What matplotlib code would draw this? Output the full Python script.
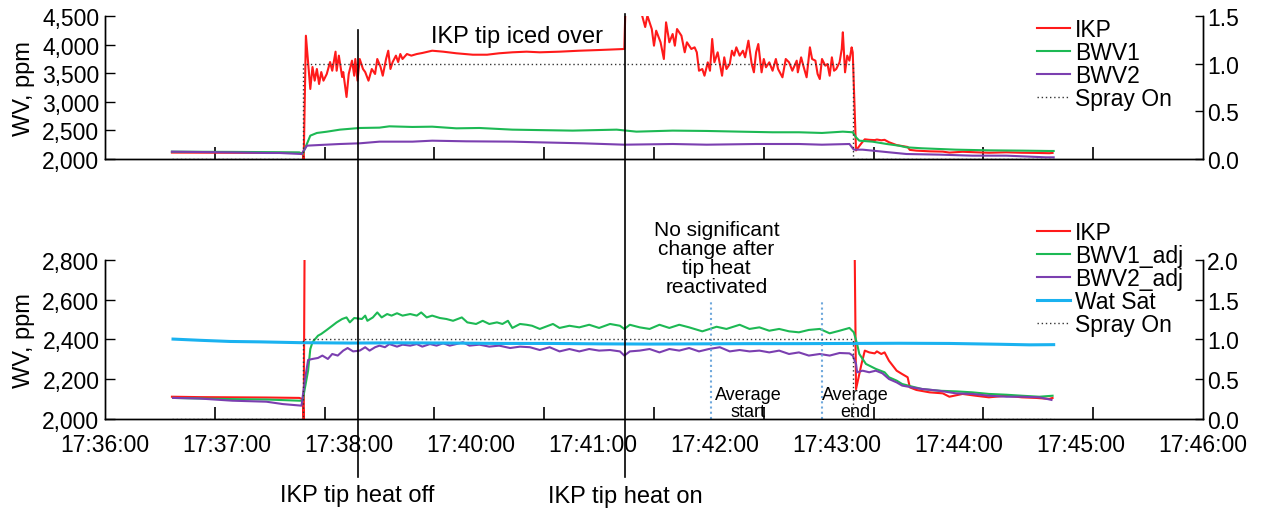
import matplotlib.pyplot as plt
import matplotlib.transforms as mtransforms
from matplotlib.lines import Line2D
from matplotlib.ticker import FixedLocator, FuncFormatter, MultipleLocator
import numpy as np

plt.rcParams["font.family"] = ["Liberation Sans", "DejaVu Sans"]

# time axis: minutes after 17:36:00
tick_labels = ["17:36:00", "17:37:00", "17:38:00", "17:40:00", "17:41:00",
               "17:42:00", "17:43:00", "17:44:00", "17:45:00", "17:46:00"]

# IKP (same series in both panels)
ikp_t = [0.61, 0.86, 1.16, 1.47, 1.77, 1.80, 1.81, 1.83, 1.85, 1.87, 1.89, 1.91,
         1.93, 1.95, 1.97, 1.99, 2.02, 2.05, 2.07, 2.10, 2.11, 2.13, 2.16, 2.17,
         2.20, 2.22, 2.25, 2.27, 2.28, 2.30, 2.32, 2.35, 2.37, 2.40, 2.43, 2.46,
         2.48, 2.51, 2.53, 2.56, 2.58, 2.60, 2.62, 2.65, 2.67, 2.69, 2.71, 2.75,
         2.79, 2.84, 2.89, 2.98, 3.08, 3.20, 3.35, 3.48, 3.59, 3.71, 3.84, 3.96,
         4.14, 4.32, 4.50, 4.73, 4.74, 4.82, 4.89, 4.92, 4.94, 4.98, 5.00, 5.02,
         5.06, 5.09, 5.11, 5.14, 5.17, 5.19, 5.21, 5.25, 5.28, 5.30, 5.34, 5.37,
         5.39, 5.41, 5.44, 5.46, 5.49, 5.51, 5.53, 5.55, 5.58, 5.60, 5.62, 5.64,
         5.66, 5.69, 5.71, 5.73, 5.75, 5.78, 5.81, 5.83, 5.86, 5.89, 5.91, 5.93,
         5.95, 5.98, 6.00, 6.02, 6.05, 6.08, 6.11, 6.13, 6.17, 6.20, 6.23, 6.26,
         6.30, 6.31, 6.34, 6.36, 6.39, 6.40, 6.42, 6.44, 6.47, 6.49, 6.51, 6.53,
         6.56, 6.58, 6.60, 6.62, 6.64, 6.66, 6.69, 6.71, 6.72, 6.74, 6.76, 6.78,
         6.80, 6.81, 6.84, 6.89, 6.92, 6.96, 7.01, 7.03, 7.07, 7.10, 7.14, 7.21,
         7.26, 7.31, 7.33, 7.39, 7.51, 7.63, 7.69, 7.81, 7.93, 8.05, 8.21, 8.35,
         8.48, 8.60, 8.63]
ikp_v = [2112, 2110, 2109, 2108, 2106, 2100, 1985, 4155, 3695, 3224, 3608, 3369,
         3573, 3311, 3520, 3369, 3486, 3695, 3543, 3876, 3543, 3807, 3433, 3520,
         3084, 3486, 3719, 3456, 3748, 3369, 3748, 3573, 3520, 3369, 3573, 3486,
         3748, 3608, 3456, 3748, 3893, 3573, 3695, 3807, 3695, 3835, 3748, 3835,
         3807, 3835, 3853, 3893, 3876, 3848, 3823, 3823, 3848, 3865, 3876, 3865,
         3876, 3893, 3905, 3923, 4650, 4700, 4520, 4307, 4505, 4272, 3981, 4243,
         4040, 3748, 4389, 4040, 4185, 3981, 4272, 4155, 3865, 4040, 3923, 3952,
         3865, 3543, 3573, 3456, 3690, 3543, 4098, 3690, 3865, 3660, 3456, 3777,
         3573, 3660, 3893, 3807, 3952, 3807, 3893, 3777, 4068, 3660, 3515, 3865,
         4010, 3515, 3748, 3603, 3690, 3543, 3748, 3573, 3428, 3748, 3690, 3543,
         3719, 3515, 3777, 3631, 3428, 3603, 3952, 3748, 3719, 3486, 3398, 3748,
         3631, 3660, 3456, 3777, 3543, 3573, 3690, 3923, 4215, 3515, 3807, 3719,
         3952, 3865, 2150, 2277, 2344, 2335, 2330, 2340, 2327, 2335, 2293, 2243,
         2226, 2210, 2159, 2146, 2134, 2129, 2112, 2126, 2117, 2109, 2117, 2109,
         2106, 2101, 2106]

# top panel BWV1 / BWV2
bwv1_t = [0.61, 0.86, 1.16, 1.47, 1.77, 1.80, 1.82, 1.87, 1.93, 2.02, 2.14, 2.32,
          2.50, 2.59, 2.80, 2.98, 3.20, 3.41, 3.71, 3.96, 4.26, 4.66, 4.84, 5.17,
          5.48, 5.78, 6.08, 6.32, 6.53, 6.72, 6.81, 6.84, 6.87, 6.99, 7.12, 7.23,
          7.30, 7.44, 7.75, 8.05, 8.35, 8.60, 8.64]
bwv1_v = [2128, 2126, 2124, 2120, 2115, 2090, 2175, 2408, 2455, 2477, 2513, 2542,
          2548, 2571, 2560, 2565, 2536, 2542, 2513, 2505, 2496, 2513, 2478, 2496,
          2490, 2478, 2467, 2467, 2455, 2478, 2467, 2379, 2320, 2303, 2262, 2233,
          2204, 2187, 2163, 2151, 2146, 2140, 2140]
bwv2_t = [0.61, 0.86, 1.16, 1.47, 1.59, 1.79, 1.84, 1.96, 2.14, 2.32, 2.50, 2.80,
          2.98, 3.29, 3.71, 3.96, 4.35, 4.73, 5.17, 5.48, 5.93, 6.32, 6.53, 6.78,
          6.82, 6.90, 6.99, 7.14, 7.30, 7.60, 7.90, 8.21, 8.57, 8.64]
bwv2_v = [2128, 2122, 2115, 2105, 2105, 2087, 2233, 2245, 2262, 2274, 2303, 2303,
          2320, 2309, 2303, 2291, 2274, 2250, 2262, 2250, 2262, 2262, 2250, 2262,
          2163, 2163, 2146, 2117, 2087, 2076, 2058, 2058, 2029, 2029]

# bottom panel adjusted series
bwv1a_t = [0.62, 0.86, 1.16, 1.47, 1.77, 1.80, 1.85, 1.87, 1.89, 1.94, 1.97, 2.02,
           2.07, 2.11, 2.16, 2.20, 2.23, 2.27, 2.34, 2.37, 2.39, 2.44, 2.48, 2.52,
           2.57, 2.61, 2.66, 2.71, 2.78, 2.84, 2.88, 2.93, 2.98, 3.05, 3.11, 3.17,
           3.25, 3.30, 3.38, 3.44, 3.50, 3.57, 3.62, 3.67, 3.71, 3.78, 3.84, 3.89,
           3.96, 4.08, 4.14, 4.23, 4.32, 4.41, 4.50, 4.60, 4.69, 4.73, 4.78, 4.87,
           4.96, 5.05, 5.14, 5.23, 5.32, 5.44, 5.57, 5.66, 5.78, 5.87, 5.96, 6.05,
           6.14, 6.23, 6.32, 6.41, 6.51, 6.60, 6.69, 6.78, 6.82, 6.85, 6.87, 6.93,
           7.02, 7.10, 7.14, 7.21, 7.26, 7.35, 7.44, 7.60, 7.75, 7.90, 8.05, 8.21,
           8.35, 8.51, 8.63]
bwv1a_v = [2106, 2103, 2100, 2098, 2092, 2092, 2243, 2352, 2386, 2419, 2428, 2448,
           2469, 2486, 2503, 2511, 2486, 2508, 2503, 2520, 2494, 2511, 2536, 2511,
           2528, 2520, 2532, 2520, 2528, 2520, 2536, 2511, 2520, 2508, 2503, 2494,
           2511, 2486, 2478, 2494, 2478, 2486, 2478, 2494, 2458, 2478, 2474, 2469,
           2453, 2478, 2458, 2469, 2461, 2474, 2458, 2478, 2469, 2453, 2474, 2461,
           2453, 2474, 2458, 2474, 2461, 2441, 2464, 2453, 2474, 2453, 2461, 2444,
           2453, 2441, 2436, 2448, 2453, 2431, 2444, 2458, 2436, 2377, 2327, 2277,
           2252, 2235, 2210, 2193, 2176, 2163, 2151, 2142, 2139, 2134, 2126, 2122,
           2117, 2112, 2117]
bwv2a_t = [0.62, 0.86, 1.16, 1.47, 1.62, 1.79, 1.82, 1.85, 1.89, 1.94, 1.98, 2.03,
           2.07, 2.12, 2.17, 2.21, 2.26, 2.32, 2.37, 2.41, 2.46, 2.50, 2.55, 2.59,
           2.66, 2.71, 2.78, 2.84, 2.89, 2.96, 3.02, 3.08, 3.14, 3.20, 3.26, 3.32,
           3.41, 3.50, 3.59, 3.69, 3.78, 3.87, 3.96, 4.05, 4.14, 4.23, 4.32, 4.41,
           4.50, 4.60, 4.69, 4.73, 4.78, 4.87, 4.96, 5.05, 5.14, 5.23, 5.32, 5.41,
           5.50, 5.60, 5.69, 5.78, 5.87, 5.96, 6.05, 6.14, 6.23, 6.32, 6.41, 6.51,
           6.60, 6.69, 6.78, 6.81, 6.84, 6.85, 6.90, 6.96, 7.02, 7.08, 7.14, 7.21,
           7.26, 7.35, 7.44, 7.60, 7.75, 7.90, 8.05, 8.21, 8.35, 8.51, 8.62]
bwv2a_v = [2106, 2103, 2092, 2087, 2075, 2067, 2193, 2297, 2302, 2307, 2319, 2302,
           2327, 2319, 2344, 2357, 2340, 2344, 2361, 2344, 2361, 2369, 2361, 2377,
           2364, 2374, 2369, 2377, 2364, 2377, 2369, 2381, 2369, 2377, 2386, 2369,
           2374, 2364, 2369, 2357, 2364, 2361, 2347, 2361, 2340, 2352, 2340, 2352,
           2344, 2347, 2340, 2319, 2340, 2344, 2352, 2335, 2352, 2344, 2357, 2340,
           2352, 2361, 2340, 2347, 2340, 2344, 2335, 2344, 2327, 2335, 2319, 2327,
           2319, 2332, 2330, 2319, 2277, 2235, 2243, 2235, 2243, 2230, 2201, 2184,
           2168, 2159, 2151, 2142, 2129, 2126, 2117, 2112, 2112, 2109, 2096]
watsat_t = [0.62, 0.86, 1.14, 1.41, 1.77, 2.23, 2.68, 3.14, 3.59, 4.05, 4.50,
            4.96, 5.41, 5.87, 6.32, 6.78, 7.23, 7.69, 8.14, 8.42, 8.64]
watsat_v = [2402, 2396, 2390, 2388, 2384, 2382, 2383, 2382, 2380, 2380, 2378,
            2377, 2378, 2379, 2379, 2380, 2381, 2380, 2376, 2373, 2374]

# spray on/off (right axis)
spray_t = [0.61, 1.80, 1.80, 6.81, 6.81, 8.64]
spray_v = [0, 0, 1, 1, 0, 0]

# events
heat_off_t = 2.30
heat_on_t = 4.74
avg_start_t = 5.52
avg_end_t = 6.53

C_IKP, C_B1, C_B2, C_WS = "#ff1a1a", "#1db954", "#7b3fb0", "#1ab2f0"
FS = 16.5

fig = plt.figure(figsize=(12.63, 5.10), dpi=100)
ax_t = fig.add_axes([0.0831, 0.6863, 0.8694, 0.2804])
ax_b = fig.add_axes([0.0831, 0.1765, 0.8694, 0.3118])
ax_t2 = ax_t.twinx()
ax_b2 = ax_b.twinx()

thousands = FuncFormatter(lambda v, p: f"{v:,.0f}")
onedp = FuncFormatter(lambda v, p: f"{v:.1f}")

for ax, ax2 in ((ax_t, ax_t2), (ax_b, ax_b2)):
    ax.set_xlim(0, 10)
    ax.xaxis.set_major_locator(FixedLocator(np.linspace(0, 10, 10)))
    ax.xaxis.set_minor_locator(FixedLocator(np.arange(1, 10)))
    ax.tick_params(axis="x", which="major", length=0, pad=10, labelsize=FS)
    ax.tick_params(axis="x", which="minor", direction="in", length=8.5, width=1.2)
    ax.tick_params(axis="y", direction="in", length=7, width=1, pad=4, labelsize=FS)
    ax.yaxis.set_major_formatter(thousands)
    ax.set_ylabel("WV, ppm", fontsize=17)
    ax.yaxis.set_label_coords(-0.064, 0.5)
    ax2.tick_params(axis="y", direction="in", length=6, width=1, pad=3, labelsize=FS)
    ax2.yaxis.set_major_formatter(onedp)
    ax2.yaxis.set_major_locator(MultipleLocator(0.5))
    for a in (ax, ax2):
        a.spines["top"].set_visible(False)
        for s in ("left", "right", "bottom"):
            a.spines[s].set_linewidth(1.0)

ax_t.set_xticklabels([])
ax_b.set_xticklabels(tick_labels)

# top panel
ax_t.plot(ikp_t, ikp_v, color=C_IKP, lw=1.5, label="IKP")
ax_t.plot(bwv1_t, bwv1_v, color=C_B1, lw=1.5, label="BWV1")
ax_t.plot(bwv2_t, bwv2_v, color=C_B2, lw=1.5, label="BWV2")
ax_t2.plot(spray_t, spray_v, color="#333333", lw=1.0, ls=(0, (1, 2)), label="Spray On")
ax_t.set_ylim(2000, 4500)
ax_t.yaxis.set_major_locator(MultipleLocator(500))
ax_t2.set_ylim(0, 1.5)
ax_t.text(3.75, 4150, "IKP tip iced over", fontsize=17, ha="center", va="center")

# bottom panel
ax_b.plot(ikp_t, ikp_v, color=C_IKP, lw=1.5, label="IKP")
ax_b.plot(bwv1a_t, bwv1a_v, color=C_B1, lw=1.5, label="BWV1_adj")
ax_b.plot(bwv2a_t, bwv2a_v, color=C_B2, lw=1.5, label="BWV2_adj")
ax_b.plot(watsat_t, watsat_v, color=C_WS, lw=2.2, label="Wat Sat")
ax_b2.plot(spray_t, spray_v, color="#333333", lw=1.0, ls=(0, (1, 2)), label="Spray On")
ax_b.set_ylim(2000, 2800)
ax_b.yaxis.set_major_locator(MultipleLocator(200))
ax_b2.set_ylim(0, 2.0)

for t in (avg_start_t, avg_end_t):
    ax_b.plot([t, t], [2000, 2590], color="#6fa8dc", lw=1.5, ls=(0, (1, 1.5)))
ax_b.text(5.86, 2080, "Average\nstart", fontsize=13, ha="center", va="center",
          linespacing=0.95)
ax_b.text(6.83, 2080, "Average\nend", fontsize=13, ha="center", va="center",
          linespacing=0.95)
ax_b.text(5.57, 2810, "No significant\nchange after\ntip heat\nreactivated",
          fontsize=15, ha="center", va="center", linespacing=1.0, clip_on=False)

# event lines across both panels
trans = mtransforms.blended_transform_factory(ax_b.transData, fig.transFigure)
fig.add_artist(Line2D([heat_off_t] * 2, [0.939, 0.063], transform=trans,
                      color="black", lw=1.2))
fig.add_artist(Line2D([heat_on_t] * 2, [0.971, 0.063], transform=trans,
                      color="black", lw=1.2))
fig.text(heat_off_t, 0.028, "IKP tip heat off", transform=trans, fontsize=17,
         ha="center", va="center")
fig.text(heat_on_t, 0.025, "IKP tip heat on", transform=trans, fontsize=17,
         ha="center", va="center")

# legends
leg_kw = dict(loc="upper left", frameon=False, fontsize=16.5, borderpad=0,
              handlelength=1.45, handletextpad=0.2, labelspacing=0.0)
h1, l1 = ax_t.get_legend_handles_labels()
h2, l2 = ax_t2.get_legend_handles_labels()
fig.legend(h1 + h2, l1 + l2, bbox_to_anchor=(0.812, 0.986), **leg_kw)
h1, l1 = ax_b.get_legend_handles_labels()
h2, l2 = ax_b2.get_legend_handles_labels()
fig.legend(h1 + h2, l1 + l2, bbox_to_anchor=(0.812, 0.587), **leg_kw)

fig.savefig("out.png", dpi=100)
